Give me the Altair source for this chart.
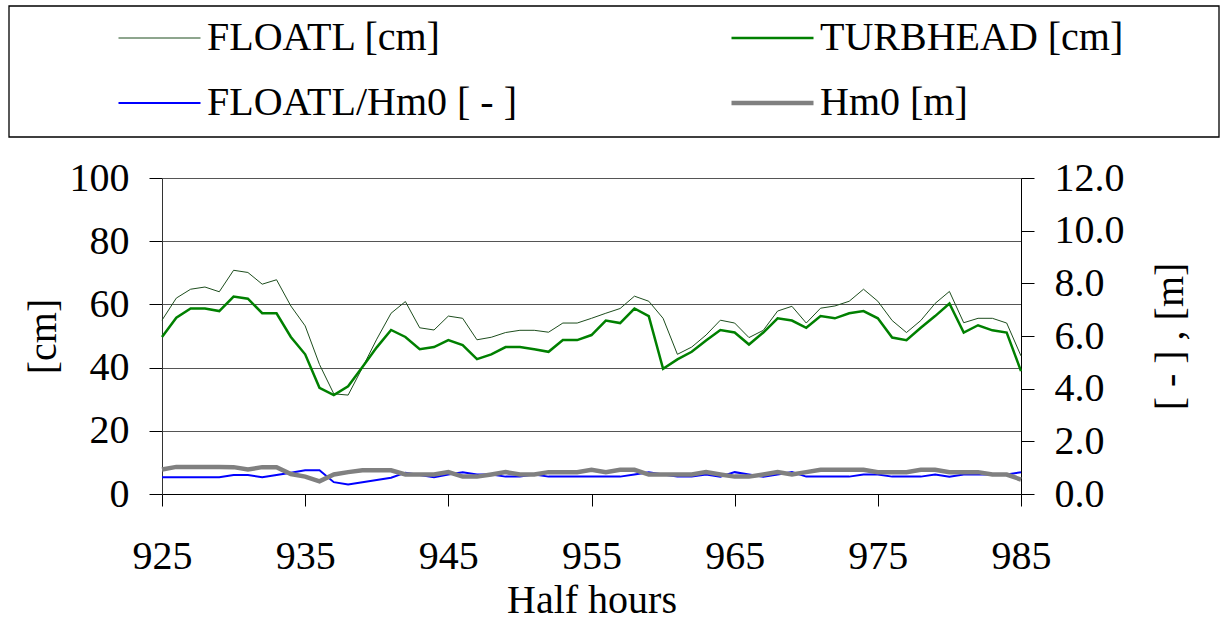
import altair as alt
import pandas as pd

half_hours = list(range(925, 986))

floatl = [55.0, 62.0, 64.8, 65.5, 64.0, 70.8, 70.1, 66.4, 67.8, 59.5,
          53.2, 41.0, 31.7, 31.3, 40.0, 49.0, 57.2, 60.9, 52.6, 51.9,
          56.3, 55.6, 48.8, 49.6, 51.1, 51.8, 51.8, 51.2, 54.1, 54.1,
          55.6, 57.2, 58.7, 62.6, 61.0, 55.6, 44.2, 46.5, 50.3, 55.0,
          54.1, 49.5, 51.8, 57.9, 59.4, 54.1, 58.8, 59.5, 61.0, 64.8,
          61.0, 54.9, 51.1, 54.9, 60.3, 64.1, 54.2, 55.6, 55.6, 54.1,
          43.7]

turbhead = [49.7, 55.8, 58.7, 58.7, 57.9, 62.5, 61.8, 57.2, 57.2, 49.7,
            44.2, 33.6, 31.3, 34.1, 40.2, 46.4, 51.9, 49.7, 45.8, 46.5,
            48.7, 47.1, 42.7, 44.2, 46.5, 46.5, 45.8, 45.0, 48.7, 48.7,
            50.3, 54.9, 54.1, 58.7, 56.3, 39.6, 42.6, 45.0, 48.6, 51.9,
            51.1, 47.3, 51.1, 55.6, 54.9, 52.6, 56.3, 55.6, 57.2, 57.9,
            55.6, 49.5, 48.7, 52.6, 56.3, 60.3, 51.1, 53.4, 51.8, 51.1,
            38.9]

floatl_hm0 = [0.64, 0.64, 0.64, 0.64, 0.64, 0.72, 0.72, 0.64, 0.72, 0.81,
              0.90, 0.90, 0.45, 0.36, 0.45, 0.53, 0.62, 0.81, 0.72, 0.64,
              0.74, 0.83, 0.74, 0.74, 0.66, 0.66, 0.74, 0.66, 0.66, 0.66,
              0.66, 0.66, 0.66, 0.74, 0.83, 0.74, 0.66, 0.66, 0.74, 0.66,
              0.83, 0.74, 0.66, 0.74, 0.83, 0.66, 0.66, 0.66, 0.66, 0.74,
              0.74, 0.66, 0.66, 0.66, 0.74, 0.66, 0.74, 0.74, 0.74, 0.74,
              0.83]

hm0 = [0.93, 1.03, 1.03, 1.03, 1.03, 1.02, 0.93, 1.02, 1.02, 0.76,
       0.66, 0.48, 0.74, 0.83, 0.90, 0.90, 0.90, 0.74, 0.74, 0.74,
       0.83, 0.66, 0.66, 0.74, 0.83, 0.74, 0.74, 0.83, 0.83, 0.83,
       0.92, 0.83, 0.92, 0.92, 0.74, 0.74, 0.74, 0.74, 0.83, 0.74,
       0.66, 0.66, 0.74, 0.83, 0.74, 0.83, 0.92, 0.92, 0.92, 0.92,
       0.83, 0.83, 0.83, 0.92, 0.92, 0.83, 0.83, 0.83, 0.74, 0.74,
       0.55]

series_names = ["FLOATL [cm]", "TURBHEAD [cm]", "FLOATL/Hm0 [ - ]", "Hm0 [m]"]
series_colors = ["#1d4d1d", "#008000", "#0000ff", "#808080"]
series_widths = [1, 2.5, 2, 4.5]

x_ticks = list(range(925, 986, 10))
left_ticks = [0, 20, 40, 60, 80, 100]
right_ticks = [0, 2, 4, 6, 8, 10, 12]

n = len(half_hours)
left_df = pd.DataFrame({
    "t": half_hours * 2,
    "v": floatl + turbhead,
    "series": [series_names[0]] * n + [series_names[1]] * n,
})
right_df = pd.DataFrame({
    "t": half_hours * 2,
    "v": floatl_hm0 + hm0,
    "series": [series_names[2]] * n + [series_names[3]] * n,
})

FONT = "Liberation Serif"

legend = alt.Legend(
    title=None, orient="none", legendX=-46, legendY=-160, columns=2,
    direction="horizontal",
    columnPadding=212, rowPadding=25, symbolType="stroke", symbolSize=6724,
    clipHeight=40, labelFont=FONT, labelFontSize=40, labelColor="black",
    labelLimit=0, labelOffset=4, padding=0,
)

color = alt.Color("series:N", scale=alt.Scale(domain=series_names, range=series_colors), legend=legend)
sw = alt.StrokeWidth("series:N", scale=alt.Scale(type="ordinal", domain=series_names, range=series_widths), legend=legend)

x_enc = alt.X(
    "t:Q",
    scale=alt.Scale(domain=[925, 985], nice=False, zero=False),
    axis=alt.Axis(
        values=x_ticks, title="Half hours", grid=False, tickSize=12,
        tickColor="black", domainColor="black", labelFont=FONT, labelFontSize=40,
        labelColor="black", labelPadding=30, labelFlush=False, labelOverlap=False,
        titleFont=FONT, titleFontSize=40,
        titleFontWeight="normal", titleColor="black", titlePadding=4,
    ),
)

left = alt.Chart(left_df).mark_line().encode(
    x=x_enc,
    y=alt.Y(
        "v:Q", scale=alt.Scale(domain=[0, 100], nice=False),
        axis=alt.Axis(
            orient="left", values=left_ticks, title="[cm]", grid=True,
            gridColor="#555555", gridWidth=1, tickSize=13, tickColor="black",
            domainColor="#333333", labelFont=FONT, labelFontSize=40,
            labelColor="black", labelPadding=20, titleFont=FONT,
            titleFontSize=40, titleFontWeight="normal", titleColor="black",
            titlePadding=6,
        ),
    ),
    color=color,
    strokeWidth=sw,
)

right = alt.Chart(right_df).mark_line().encode(
    x=x_enc,
    y=alt.Y(
        "v:Q", scale=alt.Scale(domain=[0, 12], nice=False),
        axis=alt.Axis(
            orient="right", values=right_ticks, format=".1f", title="[ - ] , [m]",
            grid=False, tickSize=13, tickColor="black", domainColor="black",
            labelFont=FONT, labelFontSize=40, labelColor="black",
            labelPadding=20, titleFont=FONT, titleFontSize=40,
            titleFontWeight="normal", titleColor="black", titlePadding=66,
            titleAngle=270,
        ),
    ),
    color=color,
    strokeWidth=sw,
)

box = alt.Chart(pd.DataFrame({"k": [0]})).mark_rect(
    fill="white", fillOpacity=0, stroke="black", strokeWidth=1.3
).encode(
    x=alt.value(-153), x2=alt.value(1057), y=alt.value(-172), y2=alt.value(-41)
)

chart = alt.layer(box, left, right).resolve_scale(y="independent").properties(
    width=859, height=316,
    padding={"left": 8, "top": 5, "right": 0, "bottom": 0},
).configure_view(strokeWidth=0)

chart.save("out.html", embed_options={"renderer": "svg", "actions": False})
